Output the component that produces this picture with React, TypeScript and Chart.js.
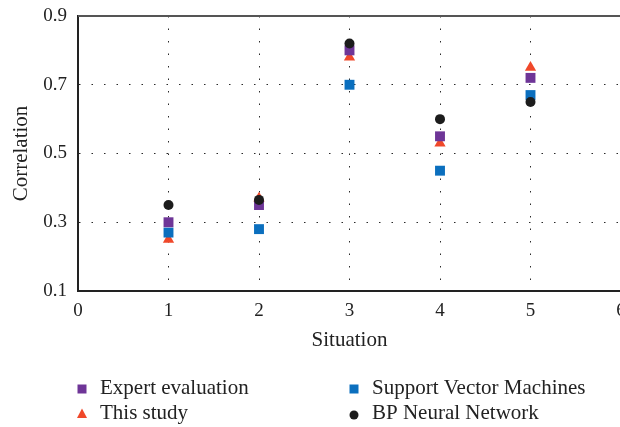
import React, { useEffect, useRef } from "react";
import { Chart, registerables } from "chart.js";

Chart.register(...registerables);

const situations = [1, 2, 3, 4, 5];
const expertEvaluation = [0.3, 0.35, 0.8, 0.55, 0.72];
const thisStudy = [0.25, 0.37, 0.78, 0.53, 0.75];
const supportVectorMachines = [0.27, 0.28, 0.7, 0.45, 0.67];
const bpNeuralNetwork = [0.35, 0.365, 0.82, 0.6, 0.65];
const yTicks = [0.1, 0.3, 0.5, 0.7, 0.9];
const xTicks = [0, 1, 2, 3, 4, 5, 6];

const FONT = "'Liberation Serif', 'Times New Roman', serif";
const PURPLE = "#6E3597";
const BLUE = "#0B6FBE";
const RED = "#F0482A";
const BLACK = "#1C1C1C";

const toPoints = (vals: number[]) => situations.map((x, i) => ({ x, y: vals[i] }));

type LegendItem = { label: string; color: string; shape: "rect" | "triangle" | "circle"; col: number; row: number };
const legendItems: LegendItem[] = [
  { label: "Expert evaluation", color: PURPLE, shape: "rect", col: 0, row: 0 },
  { label: "Support Vector Machines", color: BLUE, shape: "rect", col: 1, row: 0 },
  { label: "This study", color: RED, shape: "triangle", col: 0, row: 1 },
  { label: "BP Neural Network", color: BLACK, shape: "circle", col: 1, row: 1 },
];

const framePlugin = {
  id: "frameTop",
  beforeDatasetsDraw(chart: any) {
    const { ctx, chartArea } = chart;
    ctx.save();
    ctx.strokeStyle = "#555555";
    ctx.lineWidth = 2;
    ctx.beginPath();
    ctx.moveTo(chartArea.left, chartArea.top);
    ctx.lineTo(chartArea.right, chartArea.top);
    ctx.stroke();
    ctx.restore();
  },
};

const legendPlugin = {
  id: "gridLegend",
  afterDraw(chart: any) {
    const { ctx } = chart;
    const colMarkerX = [82, 354];
    const colTextX = [100, 372];
    const rowY = [389, 414];
    ctx.save();
    ctx.font = `21px ${FONT}`;
    ctx.textBaseline = "middle";
    ctx.textAlign = "left";
    legendItems.forEach((it) => {
      const mx = colMarkerX[it.col];
      const my = rowY[it.row];
      ctx.fillStyle = it.color;
      ctx.beginPath();
      if (it.shape === "rect") {
        ctx.rect(mx - 4.5, my - 4.5, 9, 9);
      } else if (it.shape === "triangle") {
        ctx.moveTo(mx, my - 5.5);
        ctx.lineTo(mx + 5, my + 4);
        ctx.lineTo(mx - 5, my + 4);
        ctx.closePath();
      } else {
        ctx.arc(mx, my + 1, 4.5, 0, Math.PI * 2);
      }
      ctx.fill();
      ctx.fillStyle = "#222222";
      ctx.fillText(it.label, colTextX[it.col], my - 1);
    });
    ctx.restore();
  },
};

export default function App() {
  const ref = useRef<HTMLCanvasElement | null>(null);

  useEffect(() => {
    document.body.style.margin = "0";
    if (!ref.current) return;
    const chart = new Chart(ref.current, {
      type: "scatter",
      data: {
        datasets: [
          {
            label: "BP Neural Network",
            data: toPoints(bpNeuralNetwork),
            pointStyle: "circle",
            pointRadius: 5,
            backgroundColor: BLACK,
            borderColor: BLACK,
            borderWidth: 0,
          },
          {
            label: "Expert evaluation",
            data: toPoints(expertEvaluation),
            pointStyle: "rect",
            pointRadius: 7,
            backgroundColor: PURPLE,
            borderColor: PURPLE,
            borderWidth: 0,
          },
          {
            label: "Support Vector Machines",
            data: toPoints(supportVectorMachines),
            pointStyle: "rect",
            pointRadius: 7,
            backgroundColor: BLUE,
            borderColor: BLUE,
            borderWidth: 0,
          },
          {
            label: "This study",
            data: toPoints(thisStudy),
            pointStyle: "triangle",
            pointRadius: 6.5,
            backgroundColor: RED,
            borderColor: RED,
            borderWidth: 0,
          },
        ],
      },
      options: {
        animation: false,
        responsive: false,
        layout: { padding: { top: 16, left: 0, right: 39, bottom: 74 } },
        plugins: {
          legend: { display: false },
          tooltip: { enabled: false },
        },
        scales: {
          x: {
            type: "linear",
            min: xTicks[0],
            max: xTicks[xTicks.length - 1],
            afterBuildTicks: (s: any) => {
              s.ticks = xTicks.map((v) => ({ value: v }));
            },
            ticks: {
              padding: 9,
              color: "#222222",
              font: { family: FONT, size: 19 },
              callback: (v: any) => String(v),
            },
            grid: { color: "#2a2a2a", lineWidth: 1, drawTicks: false },
            border: { display: true, color: "#222222", width: 2, dash: [1.5, 11] },
            title: {
              display: true,
              text: "Situation",
              color: "#222222",
              font: { family: FONT, size: 21 },
              padding: { top: 0, bottom: 0 },
            },
            afterFit: (s: any) => {
              s.height = 62;
            },
          },
          y: {
            type: "linear",
            min: yTicks[0],
            max: yTicks[yTicks.length - 1],
            afterBuildTicks: (s: any) => {
              s.ticks = yTicks.map((v) => ({ value: v }));
            },
            ticks: {
              padding: 0,
              color: "#222222",
              font: { family: FONT, size: 19 },
              callback: (v: any) => Number(v).toFixed(1),
            },
            grid: {
              color: "#2a2a2a",
              lineWidth: 1,
              drawTicks: true,
              tickLength: 11,
              tickColor: "rgba(0,0,0,0)",
            },
            border: { display: true, color: "#222222", width: 2, dash: [1.5, 11] },
            title: {
              display: true,
              text: "Correlation",
              color: "#222222",
              font: { family: FONT, size: 21 },
              padding: { top: 9, bottom: 0 },
            },
            afterFit: (s: any) => {
              s.width = 78;
            },
          },
        },
      },
      plugins: [framePlugin, legendPlugin],
    } as any);
    return () => chart.destroy();
  }, []);

  return (
    <div style={{ width: 620, height: 427, overflow: "hidden", position: "relative" }}>
      <canvas ref={ref} width={660} height={427} style={{ display: "block" }} />
    </div>
  );
}
